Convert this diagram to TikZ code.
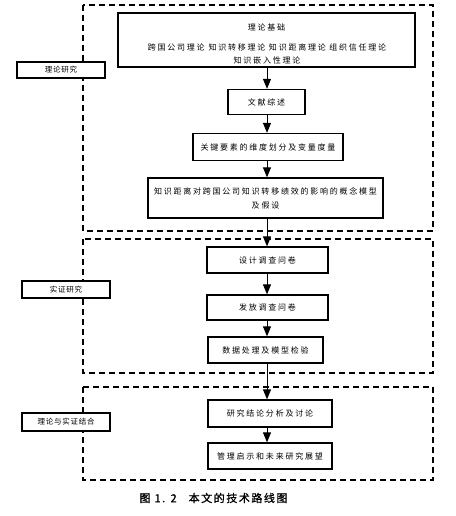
\documentclass[tikz,border=0pt]{standalone}
\usepackage{fontspec}
\newfontfamily\cjk[LetterSpace=22]{Noto Sans CJK SC}
\newfontfamily\cjklab[LetterSpace=10]{Noto Sans CJK SC}
\newfontfamily\cjkcap[LetterSpace=14,FakeBold=1]{Noto Sans CJK SC}
\usetikzlibrary{arrows.meta}
\begin{document}
\begin{tikzpicture}[x=1pt,y=-1pt,
  mainbox/.style={draw,line width=1.3pt,fill=white,inner sep=0pt,font=\fontsize{8}{13}\cjk,align=center},
  labbox/.style={draw,line width=1.3pt,fill=white,inner sep=0pt,minimum width=88pt,font=\fontsize{7.5}{9}\cjklab},
  txt/.style={inner sep=0pt,font=\fontsize{8}{13}\cjk,align=center},
  region/.style={draw,dashed,line width=1.4pt,dash pattern=on 6pt off 4pt},
  arr/.style={line width=1pt,-{Triangle[width=8pt,length=10pt]}}]
\useasboundingbox (0,0) rectangle (455,516);
% dashed regions
\draw[region] (83,5) rectangle (433,231);
\draw[region] (83,239) rectangle (433,373);
\draw[region] (83,387) rectangle (433,480);
% main boxes
\node[mainbox,minimum width=297pt,minimum height=54pt] (theory) at (266.5,40) {};
\node[txt] (t1) at (266.5,27) {理论基础};
\node[txt] (t2) at (267,53.5) {跨国公司理论\hspace{4pt}知识转移理论 知识距离理论 组织信任理论\\知识嵌入性理论};
\node[mainbox,minimum width=77pt,minimum height=25pt] (lit) at (266.5,102) {文献综述};
\node[mainbox,minimum width=150pt,minimum height=27pt] (key) at (268,147) {关键要素的维度划分及变量度量};
\node[mainbox,minimum width=235pt,minimum height=40pt,font=\fontsize{8}{14}\cjk] (model) at (265.5,198) {知识距离对跨国公司知识转移绩效的影响的概念模型\\及假设};
\node[mainbox,minimum width=121pt,minimum height=26pt] (design) at (267.5,260) {设计调查问卷};
\node[mainbox,minimum width=121pt,minimum height=25pt] (distrib) at (267.5,307.5) {发放调查问卷};
\node[mainbox,minimum width=115pt,minimum height=26pt] (data) at (265.5,350) {数据处理及模型检验};
\node[mainbox,minimum width=124pt,minimum height=27pt] (concl) at (270,413.5) {研究结论分析及讨论};
\node[mainbox,minimum width=124pt,minimum height=26pt] (mgmt) at (270,456) {管理启示和未来研究展望};
% side labels
\node[labbox,minimum height=16pt] (lab1) at (61,70) {理论研究};
\node[labbox,minimum height=17pt] (lab2) at (66,289.5) {实证研究};
\node[labbox,minimum height=18pt] (lab3) at (66,422) {理论与实证结合};
% connectors
\coordinate (c0) at (267,67);
\draw[arr] (theory.south -| c0) -- (lit.north -| c0);
\draw[arr] (lit.south -| c0) -- (key.north -| c0);
\draw[arr] (key.south -| c0) -- (model.north -| c0);
\draw[arr] (model.south -| c0) -- (design.north -| c0);
\draw[arr] (design.south -| c0) -- (distrib.north -| c0);
\draw[arr] (distrib.south -| c0) -- (data.north -| c0);
\draw[arr] (data.south -| c0) -- (concl.north -| c0);
\draw[arr] (concl.south -| c0) -- (mgmt.north -| c0);
% caption
\node[inner sep=0pt,font=\fontsize{11}{12}\cjkcap] (cap) at (213.5,498) {图 1. 2\hspace{12pt}本文的技术路线图};
\end{tikzpicture}
\end{document}
